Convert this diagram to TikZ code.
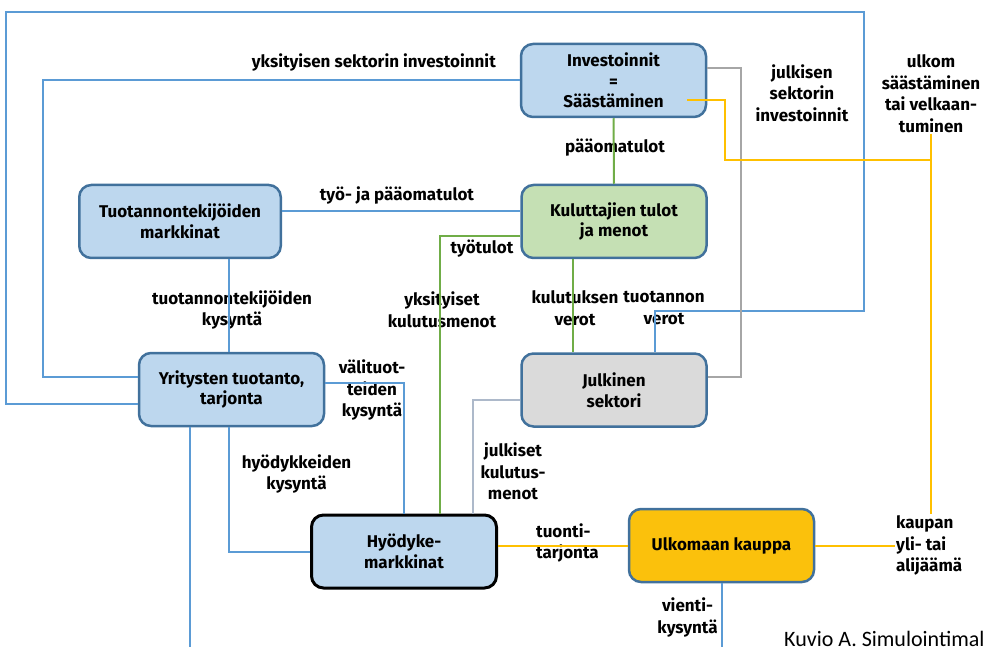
\documentclass[tikz,border=0pt]{standalone}
\usepackage{fontspec}
\setmainfont{Fira Sans}
\newfontfamily\capfont{Carlito}
\definecolor{boxblue}{HTML}{BDD7EE}
\definecolor{boxedge}{HTML}{41719C}
\definecolor{lineblue}{HTML}{5B9BD5}
\definecolor{boxgreen}{HTML}{C5E0B4}
\definecolor{linegreen}{HTML}{70AD47}
\definecolor{boxgrey}{HTML}{DADADA}
\definecolor{linegrey}{HTML}{A6A6A6}
\definecolor{linepale}{HTML}{ADB9CA}
\definecolor{lineyellow}{HTML}{FFC000}
\definecolor{boxyellow}{HTML}{FBC10C}
\newcommand\boxfont{\fontsize{17}{20.5}\selectfont\bfseries}
\newcommand\lblfont{\fontsize{17}{21.5}\selectfont\bfseries}
\begin{document}
\begin{tikzpicture}[x=1pt, y=-1pt,
   box/.style={draw=boxedge, line width=2.5pt, rounded corners=12pt, fill=boxblue,
      minimum width=185pt, minimum height=73pt, inner sep=0pt, align=center, font=\boxfont},
   lbl/.style={inner sep=1pt, align=center, font=\lblfont},
   flow/.style={draw=lineblue, line width=2pt},
   flowg/.style={draw=linegreen, line width=2pt},
   flowy/.style={draw=lineyellow, line width=2pt}]
   \path[use as bounding box, clip] (0,0) rectangle (983,647);

   % boxes
   \node[box] (inv) at (613.5,80.5) {Investoinnit\\=\\Säästäminen};
   \node[box, fill=boxgreen] (kul) at (614,221.5) {Kuluttajien tulot\\ja menot};
   \node[box, minimum width=201.5pt] (tuot) at (180,221.5) {Tuotannontekijöiden\\markkinat};
   \node[box] (yrit) at (231.5,389.5) {Yritysten tuotanto,\\tarjonta};
   \node[box, fill=boxgrey] (julk) at (614,390) {Julkinen\\sektori};
   \node[box, draw=black, line width=3pt] (hyod) at (404,551.5) {Hyödyke-\\markkinat};
   \node[box, fill=boxyellow] (ulko) at (721.5,545.5) {Ulkomaan kauppa};

   % labels
   \node[lbl, anchor=east] (lyks) at (497,62) {yksityisen sektorin investoinnit};
   \node[lbl] (ltyo) at (397,195) {työ- ja pääomatulot};
   \node[lbl] (lpaa) at (615,148) {pääomatulot};
   \node[lbl] (ljinv) at (802,93) {julkisen\\sektorin\\investoinnit};
   \node[lbl] (lulk) at (931,93.5) {ulkom\\säästäminen\\tai velkaan-\\tuminen};
   \node[lbl] (ltt) at (482,249) {työtulot};
   \node[lbl] (lykm) at (442,310) {yksityiset\\kulutusmenot};
   \node[lbl] (lkv) at (575,308) {kulutuksen\\verot};
   \node[lbl] (ltv) at (664,308) {tuotannon\\verot};
   \node[lbl] (ltk) at (232,310) {tuotannontekijöiden\\kysyntä};
   \node[lbl] (lvt) at (372,390) {välituot-\\teiden\\kysyntä};
   \node[lbl] (lhk) at (296.5,474) {hyödykkeiden\\kysyntä};
   \node[lbl] (ljkm) at (513,471.5) {julkiset\\kulutus-\\menot};
   \node[lbl, anchor=west, align=left] (ltuo) at (535,543) {tuonti-\\tarjonta};
   \node[lbl, anchor=west, align=left] (lkau) at (895,545.5) {kaupan\\yli- tai\\alijäämä};
   \node[lbl] (lvie) at (687.5,617.5) {vienti-\\kysyntä};
   \node[anchor=base west, inner sep=0pt, font=\capfont\fontsize{22}{26}\selectfont] (kuvio) at (784,646) {Kuvio A. Simulointimal};

   % corner points
   \coordinate (outA) at (6,404);
   \coordinate (outB) at (864,12);
   \coordinate (taxC) at (655,311);
   \coordinate (invA) at (43,377);
   \coordinate (tyoC) at (440,236);
   \coordinate (veroC) at (573,300);
   \coordinate (julkC) at (741,377);
   \coordinate (jkmC) at (473,400);
   \coordinate (ulkS) at (687,100);
   \coordinate (ulkE) at (725,160);
   \coordinate (tkC) at (229,300);
   \coordinate (vtC) at (404,383);
   \coordinate (hkC) at (229,552);
   \coordinate (ykC) at (190,660);
   \coordinate (bot) at (0,660);

   % blue flows
   \draw[flow] (yrit.west |- outA) -- (outA) |- (outB) |- (taxC) -- (taxC |- julk.north);
   \draw[flow] (inv.west) -| (invA) -- (invA -| yrit.west);
   \draw[flow] ([yshift=10.5pt]tuot.east) -- ([yshift=10.5pt]kul.west);
   \draw[flow] (tkC |- tuot.south) -- (tkC |- yrit.north);
   \draw[flow] (vtC -| yrit.east) -- (vtC) -- (vtC |- hyod.north);
   \draw[flow] (hkC |- yrit.south) -- (hkC) -- (hkC -| hyod.west);
   \draw[flow] (ykC |- yrit.south) -- (ykC);
   \draw[flow] (ulko.south) -- (ulko.south |- bot);
   % green flows
   \draw[flowg] (inv.south) -- (kul.north);
   \draw[flowg] (kul.west |- tyoC) -- (tyoC) -- (tyoC |- hyod.north);
   \draw[flowg] (veroC |- kul.south) -- (veroC |- julk.north);
   % grey flows
   \draw[draw=linegrey, line width=2pt] ([yshift=12.5pt]inv.east) -| (julkC) -- (julkC -| julk.east);
   \draw[draw=linepale, line width=2pt] (jkmC -| julk.west) -- (jkmC) -- (jkmC |- hyod.north);
   % yellow flows
   \draw[flowy] (ulkS) -| (ulkE) -- (ulkE -| lulk.south);
   \draw[flowy] (lulk.south) -- (lulk.south |- lkau.north);
   \draw[flowy] (hyod.east |- ulko.west) -- (ulko.west);
   \draw[flowy] (ulko.east) -- (ulko.east -| lkau.west);
\end{tikzpicture}
\end{document}
